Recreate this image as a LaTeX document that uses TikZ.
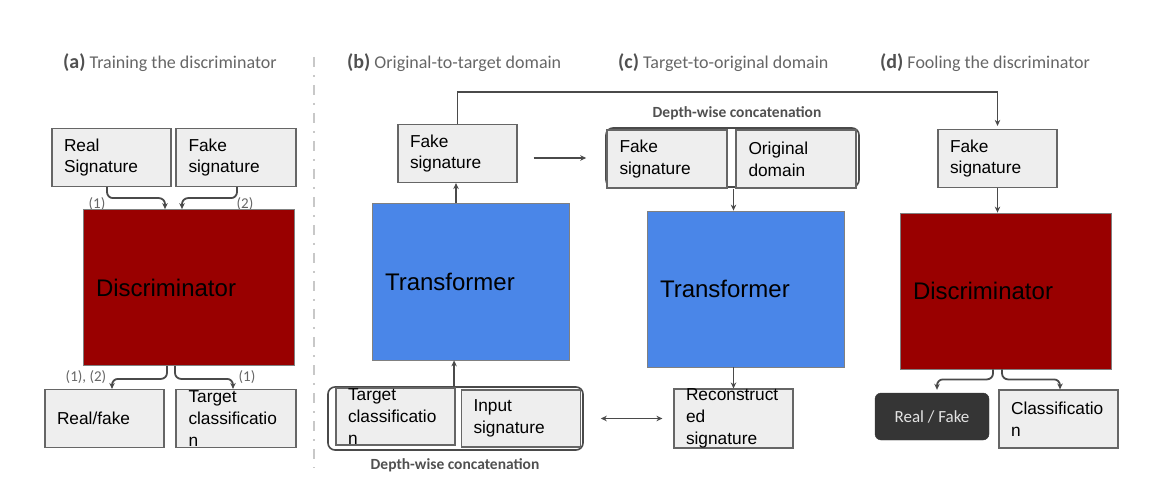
\documentclass[tikz,border=0pt]{standalone}
\usepackage{fontspec}
\setmainfont{Liberation Sans}
\newfontfamily\calfont{Carlito}
\usetikzlibrary{arrows.meta,calc}
\definecolor{dred}{HTML}{990000}
\definecolor{tblue}{HTML}{4A86E8}
\definecolor{boxfill}{HTML}{EEEEEE}
\definecolor{boxline}{HTML}{666666}
\definecolor{lineg}{HTML}{4A4A4A}
\definecolor{titleg}{HTML}{666666}
\definecolor{titled}{HTML}{505050}
\definecolor{sepg}{HTML}{C8C8C8}
\definecolor{darkbox}{HTML}{353535}
\begin{document}
\begin{tikzpicture}[x=1pt,y=-1pt,
  box/.style={draw=boxline, fill=boxfill, line width=1.2pt, inner xsep=12pt, inner ysep=0pt,
    text width=95pt, minimum width=119pt, minimum height=58pt, align=left, anchor=center,
    font=\fontsize{17.3}{21.7}\selectfont},
  bigbox/.style={draw=gray, line width=0.8pt, inner xsep=13pt, inner ysep=0pt, align=left,
    anchor=center, font=\fontsize{24}{28}\selectfont},
  discbox/.style={bigbox, fill=dred, minimum width=211pt, minimum height=156pt, text width=185pt},
  transbox/.style={bigbox, fill=tblue, minimum width=197pt, minimum height=157pt, text width=171pt},
  grp/.style={draw=lineg, line width=1.6pt, rounded corners=7pt, fill=white, anchor=center},
  arr/.style={draw=lineg, line width=1.8pt, -{Stealth[length=6pt,width=5.5pt]}},
  arrtwo/.style={draw=lineg, line width=1.8pt, {Stealth[length=6pt,width=5.5pt]}-{Stealth[length=6pt,width=5.5pt]}},
  curl/.style={arr, rounded corners=6pt},
  lbl/.style={font=\calfont\fontsize{15}{15}\selectfont, text=titleg, inner sep=0pt},
  dw/.style={font=\calfont\bfseries\fontsize{15.5}{16}\selectfont, text=titled, inner sep=0pt},
  ttl/.style={anchor=west, inner sep=0pt, text=titleg, font=\calfont\fontsize{18}{20}\selectfont},
]
\useasboundingbox (0,0) rectangle (1154,486);

% titles
\node[ttl] (ta) at (63,63) {{\color{titled}\bfseries\fontsize{20}{20}\selectfont (a)} Training the discriminator};
\node[ttl] (tb) at (347,63) {{\color{titled}\bfseries\fontsize{20}{20}\selectfont (b)} Original-to-target domain};
\node[ttl] (tc) at (618,63) {{\color{titled}\bfseries\fontsize{20}{20}\selectfont (c)} Target-to-original domain};
\node[ttl] (td) at (880,63) {{\color{titled}\bfseries\fontsize{20}{20}\selectfont (d)} Fooling the discriminator};

% separator
\coordinate (sepT) at (314,57);
\coordinate (sepB) at (314,468);
\draw[sepg, line width=2pt, dash pattern=on 10pt off 8pt on 2pt off 8pt] (sepT) -- (sepB);

% ---------- (a)
\node[box] (rs) at (111.5,157.5) {Real\\Signature};
\node[box, minimum width=120pt] (fsa) at (236,157.5) {Fake\\signature};
\node[lbl] (l1a) at (97,204) {(1)};
\node[lbl] (l2a) at (245,204) {(2)};
\node[discbox] (disca) at (188.5,287.5) {Discriminator};
\node[box] (rfa) at (104.5,418.5) {Real/fake};
\node[box, minimum width=120pt] (tca) at (236,418.5) {Target\\classificatio\\n};
\node[lbl] (l12a) at (86,377) {(1), (2)};
\node[lbl] (l1b) at (247,377) {(1)};
\draw[curl] ([xshift=-4.5pt]rs.south) -- ++(0,11) -| ([xshift=-23.5pt]disca.north);
\draw[curl] ([xshift=1pt]fsa.south) -- ++(0,11) -| ([xshift=-6.5pt]disca.north);
\draw[curl] ([xshift=-21.5pt]disca.south) -- ++(0,13) -| ([xshift=7.5pt]rfa.north);
\draw[curl] ([xshift=-13.5pt]disca.south) -- ++(0,13) -| ([xshift=-3pt]tca.north);

% ---------- (b)
\node[box] (fsb) at (457.5,153.5) {Fake\\signature};
\node[transbox] (trb) at (470.5,281.5) {Transformer};
\node[grp, minimum width=255pt, minimum height=63pt] (grpb) at (455.5,418.5) {};
\node[box, minimum height=57pt] (tcb) at (395.5,416.5) {Target\\classificatio\\n};
\node[box, minimum width=118pt, minimum height=57pt] (isb) at (521,418.5) {Input\\signature};
\node[dw] (dwb) at (455,465) {Depth-wise concatenation};
\draw[arr] ([xshift=-14.5pt]trb.north) -- ([xshift=-14.5pt]trb.north |- fsb.south);
\draw[arr] ([xshift=-1.5pt]tcb.north east) -- ([xshift=-1.5pt]tcb.north east |- trb.south);

% ---------- (c)
\node[dw] (dwc) at (737,113) {Depth-wise concatenation};
\node[grp, minimum width=253pt, minimum height=59pt] (grpc) at (732.5,157.5) {};
\node[box, minimum width=120pt] (fsc) at (667,159) {Fake\\signature};
\node[box, minimum width=120pt] (odc) at (796,159) {Original\\domain};
\node[transbox, minimum height=156pt] (trc) at (745.5,289) {Transformer};
\node[box] (rcc) at (733.5,418.5) {Reconstruct\\ed\\signature};
\draw[arr] (rcc.north |- fsc.south) -- (rcc.north |- trc.north);
\draw[arr] (rcc.north |- trc.south) -- (rcc.north);

% ---------- (d)
\node[box] (fsd) at (997.5,158.5) {Fake\\signature};
\node[discbox] (discd) at (1005.5,291) {Discriminator};
\node[draw=darkbox, fill=darkbox, rounded corners=6pt, minimum width=114pt, minimum height=47pt,
  text=boxfill!90!gray, font=\calfont\fontsize{17}{20}\selectfont, anchor=center] (rfkd) at (932,416.5) {Real / Fake};
\node[box] (cld) at (1058.5,419) {Classificatio\\n};
\draw[arr] (fsd.south) -- (fsd.south |- discd.north);
\draw[curl, shorten >=3pt] ([xshift=-12.5pt]discd.south) -- ++(0,10) -| ([xshift=5pt]rfkd.north);
\draw[curl] ([xshift=-3.5pt]discd.south) -- ++(0,10) -| ([xshift=1.5pt]cld.north);

% cross-panel connectors
\draw[arr, shorten >=3pt] (fsb.north) -- ++(0,-32) -| (fsd.north);
\draw[arr] ($(fsb.east)+(16,4.5)$) -- ($(fsb.east -| grpc.west)+(-19,4.5)$);
\draw[arrtwo] ($(grpb.east)+(17,0)$) -- ($(grpb.east -| rcc.west)+(-11,0)$);
\end{tikzpicture}
\end{document}
